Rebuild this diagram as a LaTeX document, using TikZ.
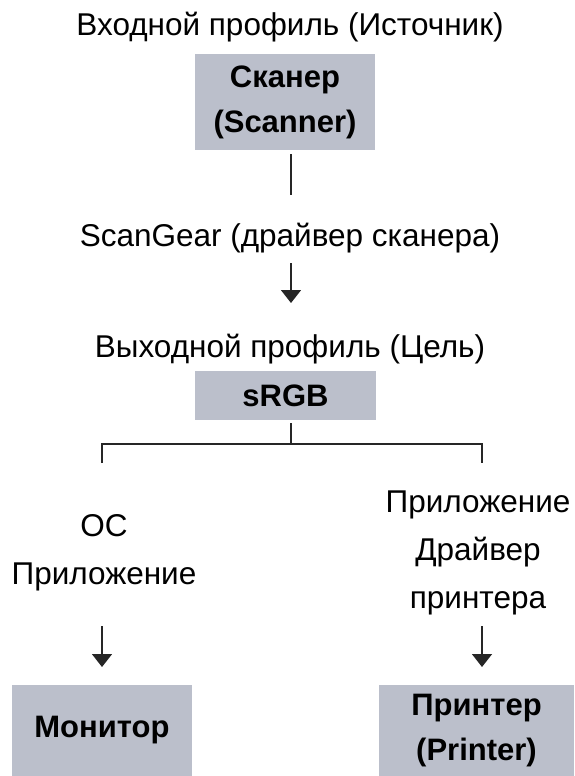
\documentclass[tikz,border=0pt]{standalone}
\usepackage{fontspec}
\setmainfont{Liberation Sans}
\usetikzlibrary{arrows.meta}
\definecolor{boxgray}{RGB}{187,191,203}
\begin{document}
\begin{tikzpicture}[x=1pt,y=-1pt,
  lbl/.style={inner sep=0pt,align=center,font=\fontsize{31.5}{48}\selectfont},
  box/.style={fill=boxgray,inner sep=0pt,align=center,font=\bfseries\fontsize{31}{45}\selectfont},
  conn/.style={line width=1.6pt,black!85},
  arr/.style={conn,-{Triangle[width=20pt,length=13pt]}}]
\useasboundingbox (0,0) rectangle (574,776);
\node[lbl] (inprof) at (290,27) {Входной профиль (Источник)};
\node[box,minimum width=180pt,minimum height=96pt] (scanner) at (285,102) {Сканер\\(Scanner)};
\node[lbl] (scangear) at (290,238) {ScanGear (драйвер сканера)};
\node[lbl] (outprof) at (290,349) {Выходной профиль (Цель)};
\node[box,minimum width=181pt,minimum height=49pt] (srgb) at (285.5,395.5) {sRGB};
\node[lbl] (os) at (104,553) {ОС\\Приложение};
\node[lbl] (drv) at (478,553) {Приложение\\Драйвер\\принтера};
\node[box,minimum width=180pt,minimum height=91pt] (monitor) at (102,730.5) {Монитор};
\node[box,minimum width=195pt,minimum height=91pt] (printer) at (476.5,730.5) {Принтер\\(Printer)};
\coordinate (s1) at (291,154);
\coordinate (s2) at (291,195);
\coordinate (g1) at (291,263);
\coordinate (g2) at (291,303);
\coordinate (r1) at (291,423);
\coordinate (r2) at (291,444);
\coordinate (bl) at (102,444);
\coordinate (br) at (482,444);
\coordinate (blt) at (102,463);
\coordinate (brt) at (482,463);
\coordinate (la1) at (102,626);
\coordinate (la2) at (102,667);
\coordinate (ra1) at (482,626);
\coordinate (ra2) at (482,667);
\draw[conn] (s1) -- (s2);
\draw[arr] (g1) -- (g2);
\draw[conn] (r1) -- (r2);
\draw[conn] (blt) -- (bl) -- (br) -- (brt);
\draw[arr] (la1) -- (la2);
\draw[arr] (ra1) -- (ra2);
\end{tikzpicture}
\end{document}
